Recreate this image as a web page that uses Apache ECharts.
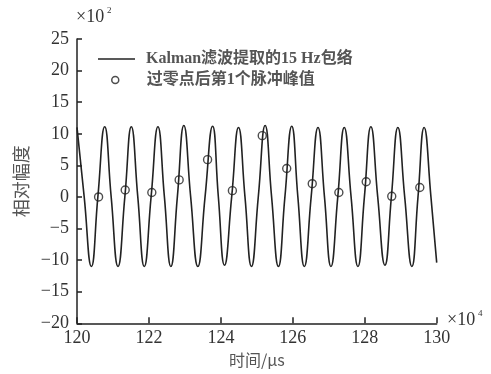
<!DOCTYPE html>
<html><head><meta charset="utf-8">
<script src="https://cdn.jsdelivr.net/npm/echarts@6/dist/echarts.min.js"></script>
<style>html,body{margin:0;padding:0;background:#fff}#c{width:491px;height:374px}</style>
</head><body><div id="c"></div>
<script>
// Envelope (x in 1e4 µs, y in 1e2): peaks, zero crossings, troughs
const envelopeTimes = [120.00,120.20,120.40,120.58,120.77,120.95,121.14,121.33,121.51,121.69,121.87,122.06,122.25,122.43,122.61,122.79,122.97,123.16,123.36,123.56,123.77,123.93,124.10,124.30,124.49,124.67,124.85,125.04,125.23,125.41,125.60,125.78,125.97,126.14,126.32,126.51,126.70,126.88,127.06,127.25,127.43,127.62,127.81,127.99,128.17,128.36,128.56,128.74,128.92,129.11,129.31,129.48,129.65,129.84,130.00];
const envelopeValues = [11.0,0,-11.0,0,11.1,0,-11.0,0,11.1,0,-11.0,0,11.1,0,-11.0,0,11.3,0,-11.0,0,11.2,0,-10.8,0,11.0,0,-11.0,0,11.3,0,-11.0,0,11.2,0,-11.0,0,11.0,0,-11.0,0,11.0,0,-11.0,0,11.1,0,-10.8,0,11.0,0,-11.0,0,11.0,0,-10.4];
const peakTimes = [120.60,121.34,122.08,122.84,123.63,124.32,125.15,125.83,126.54,127.28,128.04,128.75,129.53];
const peakValues = [0.0,1.1,0.7,2.7,5.9,1.0,9.7,4.5,2.1,0.7,2.4,0.1,1.5];
const xTicks = [120,122,124,126,128,130];
const yTicks = [-20,-15,-10,-5,0,5,10,15,20,25];
const seriesNames = ['Kalman滤波提取的15 Hz包络','过零点后第1个脉冲峰值'];

const chart = echarts.init(document.getElementById('c'));
const serif = 'Liberation Serif, Times New Roman, serif';
const txt = '#333';
const legendFont = {fontFamily:'Liberation Serif, Noto Sans CJK SC', fontSize:16, fontWeight:'bold', color:'#555'};
chart.setOption({
  animation:false,
  backgroundColor:'#fff',
  grid:{left:77,right:54.3,top:39,bottom:50.7},
  legend:[
    {left:98, top:51, padding:0, itemWidth:37, itemHeight:1.6, icon:'rect', data:[seriesNames[0]],
     itemStyle:{color:'#222'}, textStyle:Object.assign({padding:[0,0,0,6]},legendFont)},
    {left:111, top:72, padding:0, itemWidth:7, itemHeight:7, icon:'circle', data:[seriesNames[1]],
     itemStyle:{color:'rgba(0,0,0,0)',borderColor:'#222',borderWidth:1.5},
     textStyle:Object.assign({padding:[0,0,0,23]},legendFont)}
  ],
  xAxis:{
    type:'value', min:xTicks[0], max:xTicks[xTicks.length-1], interval:2,
    name:'时间/μs', nameLocation:'middle', nameGap:28,
    nameTextStyle:{fontFamily:'Noto Sans CJK SC', fontSize:16, color:'#555'},
    axisLine:{onZero:false,lineStyle:{color:'#222',width:1.5}},
    axisTick:{inside:true,length:6,lineStyle:{color:'#222',width:1.5}},
    axisLabel:{fontFamily:serif,fontSize:18,color:txt,margin:6},
    splitLine:{show:false}
  },
  yAxis:{
    type:'value', min:yTicks[0], max:yTicks[yTicks.length-1], interval:5,
    name:'相对幅度', nameLocation:'middle', nameGap:47, nameRotate:90,
    nameTextStyle:{fontFamily:'Noto Sans CJK SC', fontSize:18, color:'#555'},
    axisLine:{show:true,onZero:false,lineStyle:{color:'#222',width:1.5}},
    axisTick:{show:true,inside:true,length:5,lineStyle:{color:'#222',width:1.5}},
    axisLabel:{fontFamily:serif,fontSize:18,color:txt,margin:8,
      formatter:v=>v<0?'\u2212'+Math.abs(v):String(v)},
    splitLine:{show:false}
  },
  graphic:[
    {type:'text',left:76,top:8,style:{text:'×10',font:'18px '+serif,fill:txt}},
    {type:'text',left:107,top:6,style:{text:'2',font:'9px '+serif,fill:txt}},
    {type:'text',left:447,top:311,style:{text:'×10',font:'18px '+serif,fill:txt}},
    {type:'text',left:478,top:309,style:{text:'4',font:'9px '+serif,fill:txt}}
  ],
  series:[
    {name:seriesNames[0],type:'line',symbol:'none',smooth:0.5,
     lineStyle:{color:'#222',width:1.6},itemStyle:{color:'#222'},
     data:envelopeTimes.map((t,i)=>[t,envelopeValues[i]])},
    {name:seriesNames[1],type:'scatter',symbol:'circle',symbolSize:8,
     itemStyle:{color:'rgba(0,0,0,0)',borderColor:'#222',borderWidth:1.4},
     data:peakTimes.map((t,i)=>[t,peakValues[i]]),z:3}
  ]
});
</script></body></html>
